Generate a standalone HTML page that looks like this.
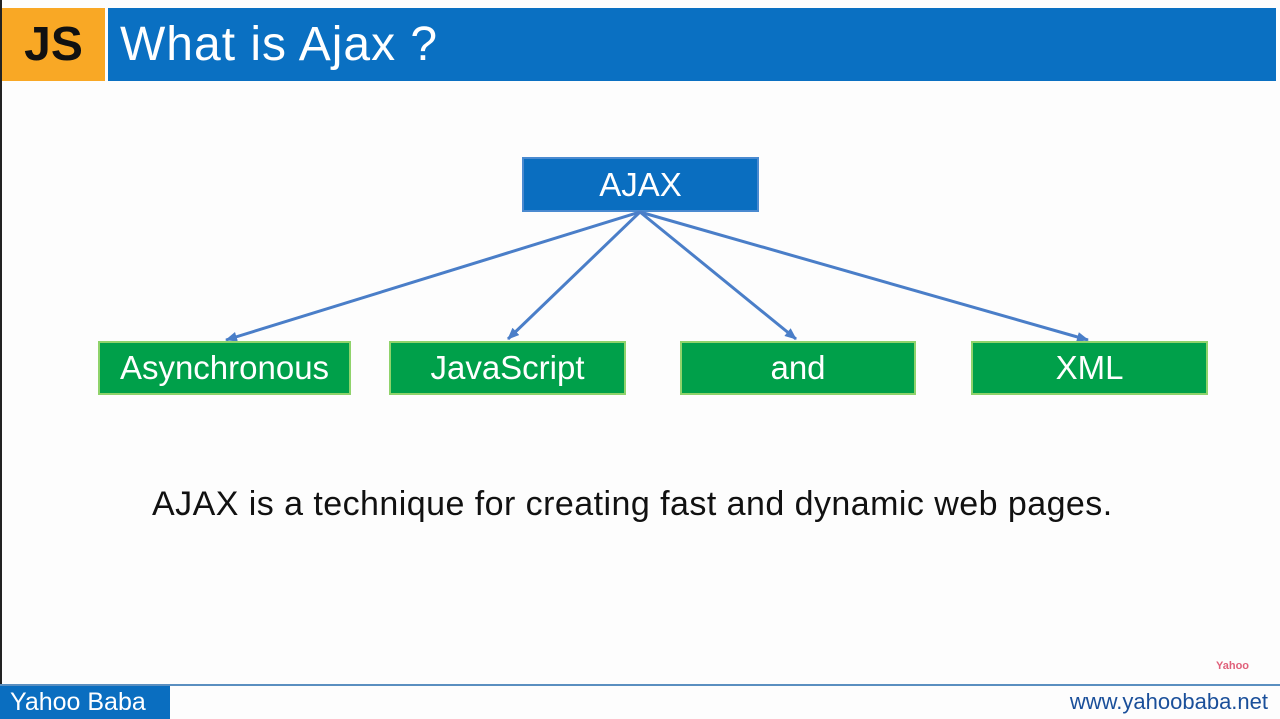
<!DOCTYPE html>
<html><head><style>
body{margin:0;width:1280px;height:719px;background:#fdfdfd;position:relative;overflow:hidden;font-family:"Liberation Sans","DejaVu Sans",sans-serif}
.a{position:absolute}
.box{position:absolute;display:flex;align-items:center;justify-content:center;color:#fff;font-size:33px;box-sizing:border-box}
.g{background:#00a04a;border:2px solid #8fd36b;top:341px;height:54px}
</style></head><body>
<div class="a" style="left:0;top:0;width:2px;height:719px;background:#222"></div>
<div class="a" style="left:2px;top:8px;width:103px;height:73px;background:#f9a825;font-weight:bold;font-size:48px;display:flex;align-items:center;justify-content:center;color:#111">JS</div>
<div class="a" style="left:108px;top:8px;width:1168px;height:73px;background:#0a70c2;color:#fff;font-size:48px;letter-spacing:1px;line-height:73px;padding-left:12px;box-sizing:border-box">What is Ajax ?</div>
<div class="box" style="left:522px;top:157px;width:237px;height:55px;background:#0a6ec0;border:2px solid #4a8ad0">AJAX</div>
<svg class="a" style="left:0;top:0" width="1280" height="719">
<defs><marker id="m" markerWidth="12" markerHeight="10" refX="11" refY="5" orient="auto" markerUnits="userSpaceOnUse"><path d="M0,0L12,5L0,10z" fill="#4a7ec8"/></marker></defs>
<g stroke="#4a7ec8" stroke-width="3" marker-end="url(#m)">
<line x1="640" y1="212" x2="226" y2="340"/>
<line x1="640" y1="212" x2="508" y2="339"/>
<line x1="640" y1="212" x2="796" y2="339"/>
<line x1="640" y1="212" x2="1088" y2="340"/>
</g></svg>
<div class="box g" style="left:98px;width:253px">Asynchronous</div>
<div class="box g" style="left:389px;width:237px">JavaScript</div>
<div class="box g" style="left:680px;width:236px">and</div>
<div class="box g" style="left:971px;width:237px">XML</div>
<div class="a" style="left:152px;top:485px;font-size:34px;letter-spacing:0.45px;color:#111;white-space:nowrap">AJAX is a technique for creating fast and dynamic web pages.</div>
<div class="a" style="left:1216px;top:660px;font-size:11px;color:#e0607a;font-weight:bold">Yahoo</div>
<div class="a" style="left:0;top:684px;width:1280px;height:2px;background:#5a8fc0"></div>
<div class="a" style="left:0;top:686px;width:170px;height:33px;background:#0a6ec0;color:#fff;font-size:25px;line-height:33px;padding-left:10px;box-sizing:border-box">Yahoo Baba</div>
<div class="a" style="right:12px;top:689px;font-size:22px;color:#1a4f9a">www.yahoobaba.net</div>
</body></html>
